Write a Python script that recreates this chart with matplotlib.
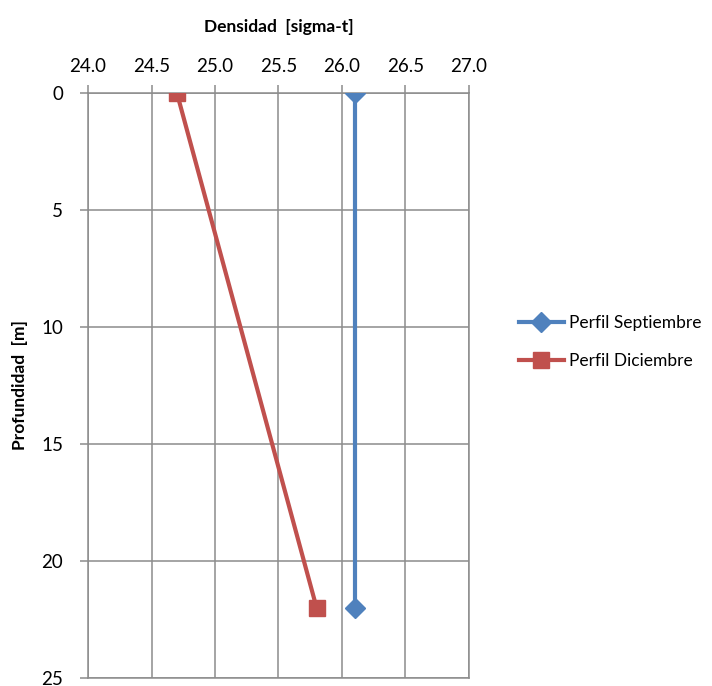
import matplotlib
import matplotlib.pyplot as plt

matplotlib.use("Agg")

# density profiles (sigma-t) vs depth (m)
depth = [0, 22]
sept_density = [26.1, 26.1]
dic_density = [24.7, 25.8]

x_ticks = [24.0, 24.5, 25.0, 25.5, 26.0, 26.5, 27.0]
y_ticks = [0, 5, 10, 15, 20, 25]

plt.rcParams["font.family"] = ["Lato", "DejaVu Sans"]

fig = plt.figure(figsize=(7.12, 6.86), dpi=100)
ax = fig.add_axes([0.1236, 0.0117, 0.5351, 0.8528])

ax.plot(sept_density, depth, color="#4F81BD", lw=3, marker="D",
        markersize=10, label="Perfil Septiembre", zorder=3)
ax.plot(dic_density, depth, color="#C0504D", lw=3, marker="s",
        markersize=11, label="Perfil Diciembre", zorder=3)

ax.set_xlim(24.0, 27.0)
ax.set_ylim(25, 0)
ax.set_xticks(x_ticks)
ax.set_xticklabels([f"{v:.1f}" for v in x_ticks])
ax.set_yticks(y_ticks)
ax.xaxis.tick_top()
ax.xaxis.set_label_position("top")

ax.grid(True, color="#8c8c8c", lw=1.1)
ax.set_axisbelow(True)
for side, sp in ax.spines.items():
    sp.set_color("#8c8c8c")
    sp.set_linewidth(1.1)

ax.tick_params(axis="both", colors="#8c8c8c", labelcolor="black",
               labelsize=13.5, length=6, width=1.1, direction="out")
ax.tick_params(axis="x", pad=7)
ax.tick_params(axis="y", pad=12)

ax.set_xlabel("Densidad  [sigma-t]", fontsize=12.5, fontweight="bold",
              labelpad=19)
ax.set_ylabel("Profundidad  [m]", fontsize=12.5, fontweight="bold")
ax.yaxis.set_label_coords(-0.158, 0.5)

ax.legend(loc="center left", bbox_to_anchor=(1.09, 0.574), frameon=False,
          fontsize=12.5, handlelength=2.6, handletextpad=0.3,
          labelspacing=1.25)

fig.savefig("out.png", dpi=100)
plt.close(fig)
